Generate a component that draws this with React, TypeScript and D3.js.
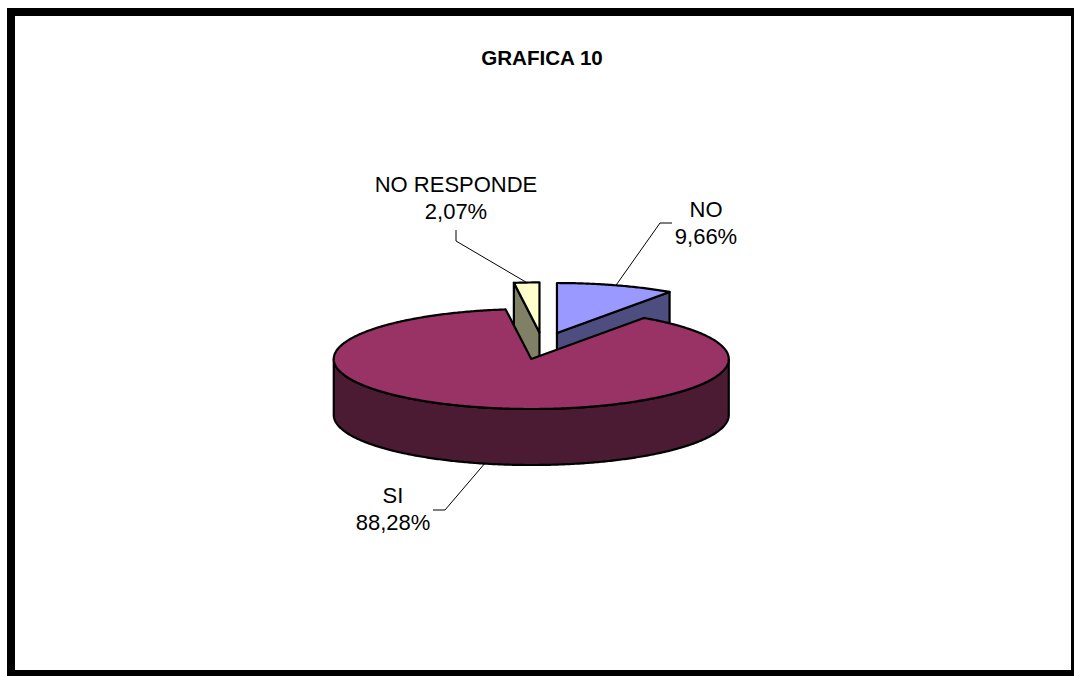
import React from 'react';
import * as d3 from 'd3';

// ---- data ----
const title = 'GRAFICA 10';
const categories = ['NO', 'SI', 'NO RESPONDE'];
const values = [9.66, 88.28, 2.07];
const valueLabels = ['9,66%', '88,28%', '2,07%'];

// ---- layout / style ----
const W = 1074;
const H = 676;
const CX = 542.6;
const CY = 345.9;
const RX = 197.5;
const RY = 50;
const DEPTH = 56;
const EXPLODE_X = 48;
const EXPLODE_Y = 13.5;
const topColors = ['#9999FF', '#993366', '#FFFFCC'];
const sideColors = ['#4D4D80', '#4B1A33', '#808066'];
// label text anchor (first line baseline) and leader elbows
const labelLayout = [
  { x: 706, y: 217, elbow: [660, 223], end: [672, 223] },
  { x: 393, y: 503, elbow: [445, 510], end: [433, 510] },
  { x: 456, y: 192, elbow: [456, 241], end: [456, 230] },
];
const FONT = '"Liberation Sans", Arial, Helvetica, sans-serif';

export default function App() {
  const pie = d3.pie<number>().sort(null).value((d) => d);
  const arcs = pie(values);

  const slices = arcs.map((a, i) => {
    const mid = (a.startAngle + a.endAngle) / 2;
    const ox = CX + EXPLODE_X * Math.sin(mid);
    const oy = CY - EXPLODE_Y * Math.cos(mid);
    const P = (t: number, z: number): [number, number] => [
      ox + RX * Math.sin(t),
      oy - RY * Math.cos(t) + z,
    ];
    const arcPts = (t0: number, t1: number, z: number) => {
      const n = Math.max(2, Math.ceil(Math.abs(t1 - t0) / 0.01));
      const pts: [number, number][] = [];
      for (let k = 0; k <= n; k++) pts.push(P(t0 + ((t1 - t0) * k) / n, z));
      return pts;
    };
    const line = d3.line();
    const s = a.startAngle;
    const e = a.endAngle;
    const top = line([[ox, oy], ...arcPts(s, e, 0)])! + 'Z';
    const faces: string[] = [];
    if (Math.sin(s) < -1e-6) {
      faces.push(line([[ox, oy], P(s, 0), P(s, DEPTH), [ox, oy + DEPTH]])! + 'Z');
    }
    if (Math.sin(e) > 1e-6) {
      faces.push(line([[ox, oy], P(e, 0), P(e, DEPTH), [ox, oy + DEPTH]])! + 'Z');
    }
    const fa = Math.max(s, Math.PI / 2);
    const fb = Math.min(e, (3 * Math.PI) / 2);
    if (fb > fa) {
      const pts = [...arcPts(fa, fb, 0), ...arcPts(fb, fa, DEPTH)];
      faces.push(line(pts)! + 'Z');
    }
    const front = Math.cos(mid) < 0;
    const anchor = P(mid, front ? DEPTH : 0);
    return { i, mid, top, faces, anchor };
  });

  const order = [...slices].sort((p, q) => -Math.cos(p.mid) - -Math.cos(q.mid));

  return (
    <svg
      width={W}
      height={H}
      style={{ position: 'absolute', left: 0, top: 0, background: '#fff' }}
      fontFamily={FONT}
    >
      <rect x={0} y={0} width={W} height={H} fill="#fff" />
      <rect x={11} y={12} width={1064} height={662} fill="none" stroke="#000" strokeWidth={8} />
      <text x={542} y={65} textAnchor="middle" fontWeight="bold" fontSize={20.6}>
        {title}
      </text>
      {order.map((sl) => (
        <g key={sl.i}>
          {sl.faces.map((f, k) => (
            <path
              key={k}
              d={f}
              fill={sideColors[sl.i]}
              stroke="#000"
              strokeWidth={2.2}
              strokeLinejoin="round"
            />
          ))}
          <path
            d={sl.top}
            fill={topColors[sl.i]}
            stroke="#000"
            strokeWidth={2.2}
            strokeLinejoin="round"
          />
        </g>
      ))}
      {slices.map((sl) => {
        const L = labelLayout[sl.i];
        return (
          <g key={'l' + sl.i}>
            <polyline
              points={[sl.anchor, L.elbow, L.end].map((p) => p.join(',')).join(' ')}
              fill="none"
              stroke="#000"
              strokeWidth={1}
            />
            <text x={L.x} y={L.y} textAnchor="middle" fontSize={22} fill="#000">
              <tspan x={L.x}>{categories[sl.i]}</tspan>
              <tspan x={L.x} dy={27}>
                {valueLabels[sl.i]}
              </tspan>
            </text>
          </g>
        );
      })}
    </svg>
  );
}
